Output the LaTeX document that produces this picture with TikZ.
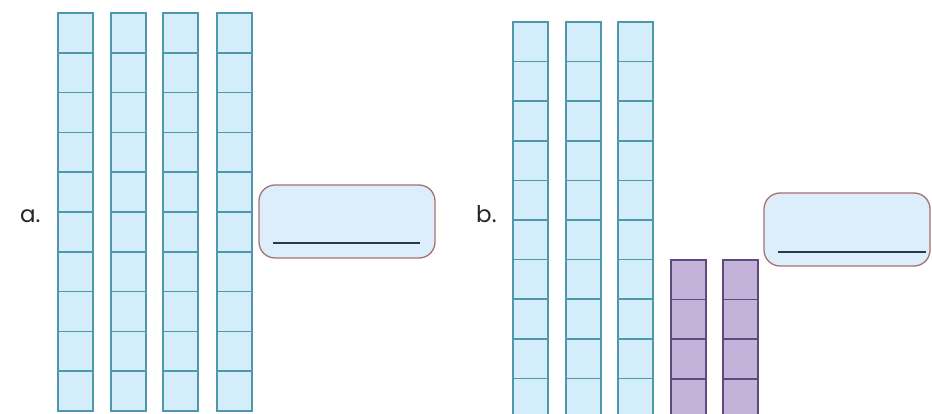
\documentclass[tikz,border=0pt]{standalone}
\usepackage{fontspec}
\setmainfont{Poppins}
\definecolor{cellblue}{HTML}{D3EEFA}
\definecolor{edgeblue}{HTML}{4F98AC}
\definecolor{cellpurple}{HTML}{C3B3DB}
\definecolor{edgepurple}{HTML}{5E4A78}
\definecolor{boxfill}{HTML}{DCEDFC}
\definecolor{boxedge}{HTML}{A87070}
\definecolor{lineblue}{HTML}{27384F}
\tikzset{
  bluecell/.style={draw=edgeblue, line width=1.6pt},
  bluerod/.style={fill=cellblue},
  purplecell/.style={draw=edgepurple, line width=1.6pt},
  purplerod/.style={fill=cellpurple},
  answerbox/.style={draw=boxedge, fill=boxfill, line width=1.3pt, rounded corners=16pt},
  answerline/.style={draw=lineblue, line width=1.6pt},
  itemlabel/.style={font=\fontsize{23}{27}\selectfont, text=black!85, inner sep=0pt}
}
\begin{document}
\begin{tikzpicture}[x=1pt,y=-1pt]
\useasboundingbox (0,0) rectangle (932,414);
\clip (0,0) rectangle (932,414);
% part a: four rods of ten
\foreach \xl in {58,111,163,217}{
  \path[bluerod] (\xl,13) rectangle ++(35,398);
  \foreach \k in {0,...,9}{
    \path[bluecell] (\xl,{13+39.8*\k}) rectangle ++(35,39.8);
  }
}
% part b: three rods of ten
\foreach \xl in {513,566,618}{
  \path[bluerod] (\xl,22) rectangle ++(35,396);
  \foreach \k in {0,...,9}{
    \path[bluecell] (\xl,{22+39.6*\k}) rectangle ++(35,39.6);
  }
}
% part b: two short purple rods
\foreach \xl in {671,723}{
  \path[purplerod] (\xl,260) rectangle ++(35,158.4);
  \foreach \k in {0,...,3}{
    \path[purplecell] (\xl,{260+39.6*\k}) rectangle ++(35,39.6);
  }
}
% labels
\node[itemlabel, anchor=base west] (la) at (20,223) {a.};
\node[itemlabel, anchor=base west] (lb) at (476,223) {b.};
% answer boxes
\path[answerbox] (259,185) rectangle (435,258);
\coordinate (a1) at (273,243);
\coordinate (a2) at (420,243);
\draw[answerline] (a1) -- (a2);
\path[answerbox] (764,193) rectangle (930,266);
\coordinate (b1) at (778,252);
\coordinate (b2) at (926,252);
\draw[answerline] (b1) -- (b2);
\end{tikzpicture}
\end{document}
